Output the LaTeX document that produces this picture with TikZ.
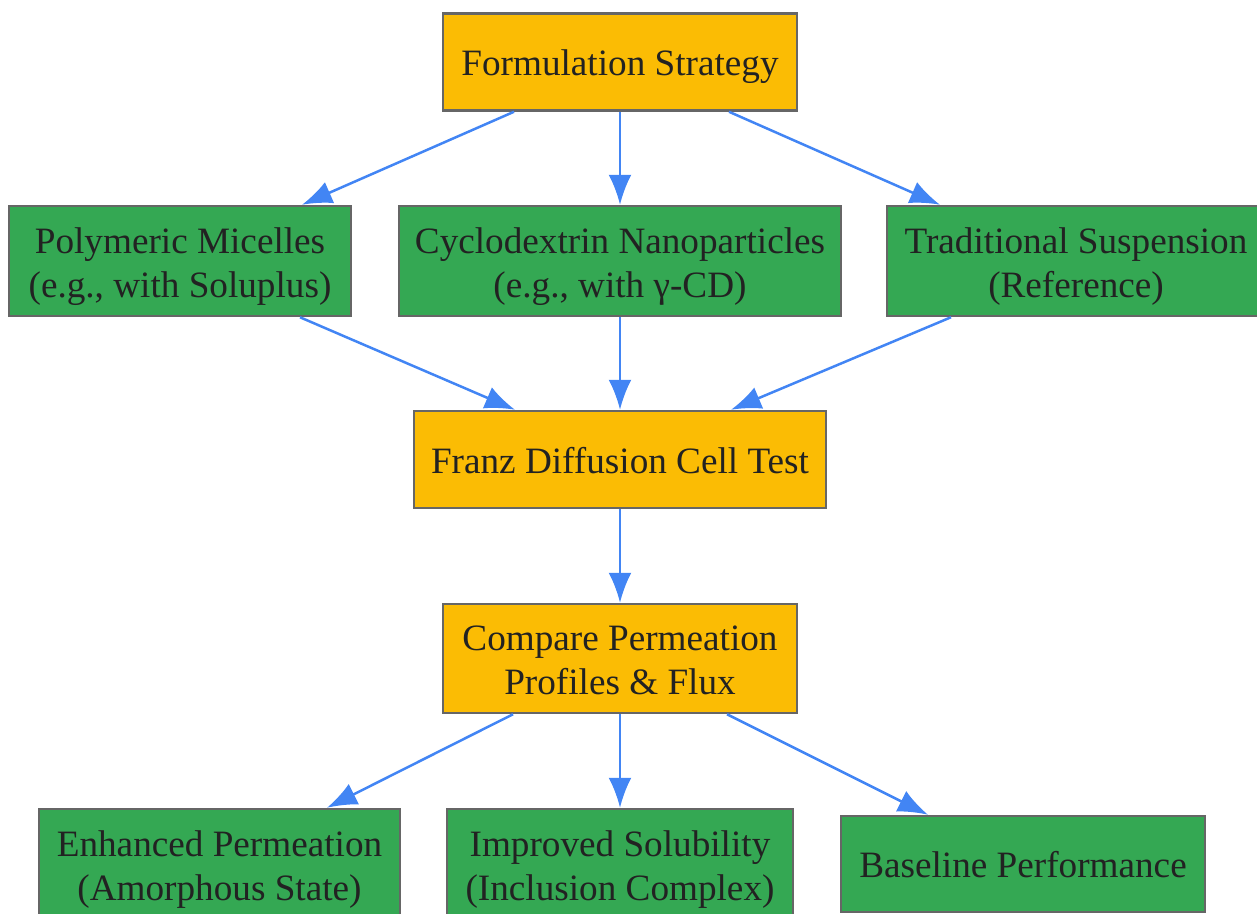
\documentclass[tikz,border=0pt]{standalone}
\usepackage{fontspec}
\setmainfont{Liberation Serif}
\usetikzlibrary{arrows.meta}
\definecolor{boxyellow}{HTML}{FBBC04}
\definecolor{boxgreen}{HTML}{34A853}
\definecolor{boxline}{HTML}{666666}
\definecolor{flowblue}{HTML}{4285F4}
\definecolor{textdark}{HTML}{222222}
\tikzset{
stage/.style={shape=rectangle, draw=boxline, line width=2.5pt, text=textdark, align=center, inner sep=0pt, font=\fontsize{37.2}{44}\selectfont},
oneline/.style={text height=27pt, text depth=0pt},
twoline/.style={text height=72pt, text depth=0pt},
keystage/.style={stage, fill=boxyellow},
option/.style={stage, fill=boxgreen},
flow/.style={draw=flowblue, line width=2.5pt, -{Latex[length=30pt,width=23pt]}}}

\begin{document}
\begin{tikzpicture}[x=1pt, y=-1pt]
    \clip (0,0) rectangle (1257,913);

                \node[keystage, oneline, minimum width=354pt, minimum height=97pt] (form) at (620,62) {Formulation Strategy};
                \node[option, twoline, minimum width=342pt, minimum height=110pt] (poly) at (180,261) {Polymeric Micelles\\(e.g., with Soluplus)};
                \node[option, twoline, minimum width=442pt, minimum height=110pt] (cyclo) at (620,261) {Cyclodextrin Nanoparticles\\(e.g., with γ-CD)};
                \node[option, twoline, minimum width=378pt, minimum height=110pt] (trad) at (1076,261) {Traditional Suspension\\(Reference)};
                \node[keystage, oneline, minimum width=412pt, minimum height=97pt] (franz) at (620,459.5) {Franz Diffusion Cell Test};
                \node[keystage, twoline, minimum width=354pt, minimum height=109pt] (comp) at (620,658.5) {Compare Permeation\\Profiles \& Flux};
                \node[option, twoline, minimum width=361pt, minimum height=110pt] (enh) at (219.5,864) {Enhanced Permeation\\(Amorphous State)};
                \node[option, twoline, minimum width=346pt, minimum height=110pt] (imp) at (620,864) {Improved Solubility\\(Inclusion Complex)};
                \node[option, oneline, minimum width=364pt, minimum height=96pt] (base) at (1023,864) {Baseline Performance};

                \draw[flow] ([xshift=-106pt]form.south) -- ([xshift=122pt]poly.north);
                \draw[flow] (form.south) -- (cyclo.north);
                \draw[flow] ([xshift=109pt]form.south) -- ([xshift=-136pt]trad.north);
                \draw[flow] ([xshift=120pt]poly.south) -- ([xshift=-105pt]franz.north);
                \draw[flow] (cyclo.south) -- (franz.north);
                \draw[flow] ([xshift=-125pt]trad.south) -- ([xshift=111pt]franz.north);
                \draw[flow] (franz.south) -- (comp.north);
                \draw[flow] ([xshift=-107pt]comp.south) -- ([xshift=107.5pt]enh.north);
                \draw[flow] (comp.south) -- (imp.north);
                \draw[flow] ([xshift=107pt]comp.south) -- ([xshift=-95pt]base.north);

            \end{tikzpicture}
\end{document}
